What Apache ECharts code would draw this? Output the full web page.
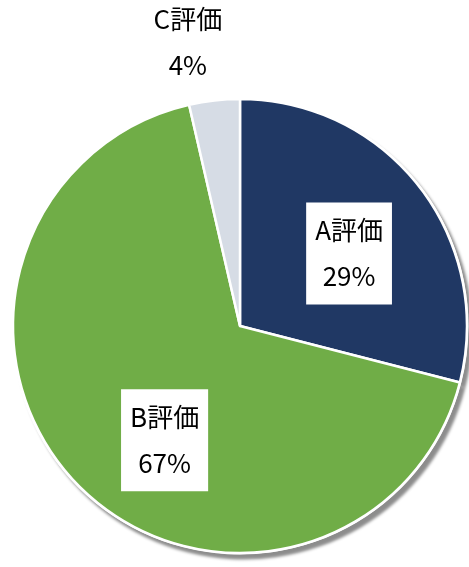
<!DOCTYPE html>
<html>
<head>
<meta charset="utf-8">
<script src="https://cdn.jsdelivr.net/npm/echarts@6/dist/echarts.min.js"></script>
<style>
html,body{margin:0;padding:0;background:#fff;}
#chart{width:469px;height:567px;}
</style>
</head>
<body>
<div id="chart"></div>
<script>
const categories = ['A評価', 'B評価', 'C評価'];
const values = [29.0, 67.4, 3.6];
const colors = ['#203864', '#70AD47', '#D6DCE5'];

const labelOffsets = [[17, -1], [8, 33], [-39, -168]];

const chart = echarts.init(document.getElementById('chart'));
const boxLabel = {
  backgroundColor: '#ffffff',
  padding: [5, 9, 5, 9]
};
const seriesData = categories.map(function (name, i) {
  return { name: name, value: values[i] };
});
chart.setOption({
  animation: false,
  series: [{
    type: 'pie',
    z: 1,
    silent: true,
    center: [240, 326],
    radius: 228.5,
    startAngle: 90,
    clockwise: true,
    label: { show: false },
    labelLine: { show: false },
    emphasis: { disabled: true },
    itemStyle: {
      color: '#ffffff',
      borderWidth: 0,
      shadowBlur: 3,
      shadowOffsetX: 4,
      shadowOffsetY: 5,
      shadowColor: 'rgba(0,0,0,0.45)'
    },
    data: seriesData
  }, {
    type: 'pie',
    z: 2,
    center: [240, 326],
    radius: 227,
    startAngle: 90,
    clockwise: true,
    itemStyle: { borderColor: '#ffffff', borderWidth: 2.5 },
    label: {
      show: true,
      position: 'inside',
      formatter: function (p) { return p.name + '\n' + Math.round(p.percent) + '%'; },
      fontFamily: '"Noto Sans CJK JP", "Noto Sans", sans-serif',
      fontSize: 26,
      lineHeight: 46,
      color: '#000000'
    },
    labelLine: { show: false },
    emphasis: { disabled: true },
    labelLayout: function (p) {
      const o = labelOffsets[p.dataIndex];
      return { dx: o[0], dy: o[1] };
    },
    data: seriesData.map(function (d, i) {
      const item = {
        name: d.name,
        value: d.value,
        itemStyle: { color: colors[i] }
      };
      if (i < 2) {
        item.label = boxLabel;
      }
      return item;
    })
  }]
});
</script>
</body>
</html>
